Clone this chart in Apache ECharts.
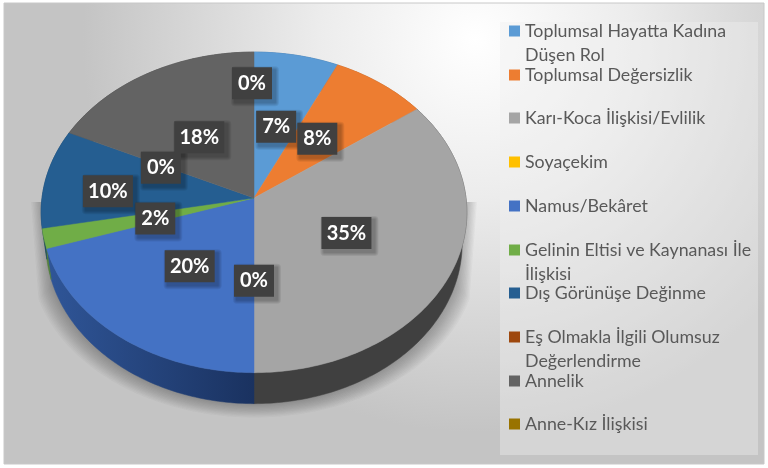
<!DOCTYPE html>
<html><head><meta charset="utf-8">
<style>html,body{margin:0;padding:0;background:#fff}#c{width:768px;height:468px}</style>
<script src="https://cdn.jsdelivr.net/npm/echarts@6/dist/echarts.min.js"></script>
</head><body><div id="c"></div>
<script>
const categories = ['Toplumsal Hayatta Kadına Düşen Rol','Toplumsal Değersizlik','Karı-Koca İlişkisi/Evlilik','Soyaçekim','Namus/Bekâret','Gelinin Eltisi ve Kaynanası İle İlişkisi','Dış Görünüşe Değinme','Eş Olmakla İlgili Olumsuz Değerlendirme','Annelik','Anne-Kız İlişkisi'];
const values = [7, 8, 35, 0, 20, 2, 10, 0, 18, 0];
const colors = ['#5b9bd5','#ed7d31','#a5a5a5','#ffc000','#4472c4','#70ad47','#255e91','#9e480e','#636363','#997300'];
const sideColors = ['#3a6d9c','#ad5a23','#404040','#bc8c00','#2b4f93','#52803a','#1b4569','#743609','#484848','#715400'];
const legendLines = [['Toplumsal Hayatta Kadına','Düşen Rol'],['Toplumsal Değersizlik'],['Karı-Koca İlişkisi/Evlilik'],['Soyaçekim'],['Namus/Bekâret'],['Gelinin Eltisi ve Kaynanası İle','İlişkisi'],['Dış Görünüşe Değinme'],['Eş Olmakla İlgili Olumsuz','Değerlendirme'],['Annelik'],['Anne-Kız İlişkisi']];
const labelReach = [.5,.5,.49,.48,.49,.49,.7,.5,.5,.8];
const labelNudge = [[0,3],[-2,0],[-2,-1],[0,3],[-1,3],[3,1],[0,7],[1,3],[0,4],[-2,4]];

const GEO = {cx:254, cy:198, A:212, B:159, c:.0895, depth:31, shrink:.978};
const total = values.reduce((a,b)=>a+b,0);
function project(deg, reach){
  const t = deg*Math.PI/180, u = reach*Math.sin(t), v = reach*Math.cos(t), d = 1+GEO.c*v;
  return [GEO.cx+GEO.A*u/d, GEO.cy-GEO.B*v/d];
}
function lower(p){ return [GEO.cx+(p[0]-GEO.cx)*GEO.shrink, p[1]+GEO.depth]; }
function arc(a,b){ const pts=[]; const n=Math.max(1,Math.ceil(Math.abs(b-a))); for(let i=0;i<=n;i++) pts.push(project(a+(b-a)*i/n,1)); return pts; }

function renderSlice(params, api){
  const i = params.seriesIndex, val = api.value(0);
  let before = 0; for(let k=0;k<i;k++) before += values[k];
  const a0 = before/total*360, a1 = (before+val)/total*360, mid = (a0+a1)/2;
  const children = [];
  if(val>0){
    const edge = arc(a0,a1);
    const sideFill = i===4
      ? new echarts.graphic.LinearGradient(50,0,254,0,[{offset:0,color:'#2f5597'},{offset:1,color:'#1a3260'}],true)
      : sideColors[i];
    children.push({type:'polygon',z2:2,shape:{points:edge.concat(edge.map(lower).reverse())},style:{fill:sideFill,stroke:sideFill,lineWidth:.5}});
    children.push({type:'polygon',z2:5,shape:{points:[[GEO.cx,GEO.cy]].concat(edge)},style:{fill:colors[i],stroke:colors[i],lineWidth:.5}});
  }
  const p = project(mid,labelReach[i]), n = labelNudge[i], txt = val+'%', w = txt.length>2?50:40, h = 32;
  const x = p[0]+n[0], y = p[1]+n[1];
  [4,3,2,1].forEach(s=>children.push({type:'rect',z2:9,shape:{x:x-w/2-s+3,y:y-h/2-s+3,width:w+2*s,height:h+2*s,r:s},style:{fill:'rgba(0,0,0,.07)'}}));
  children.push({type:'rect',z2:10,shape:{x:x-w/2,y:y-h/2,width:w,height:h},style:{fill:'#404040'}});
  children.push({type:'text',z2:11,style:{x,y,text:txt,fill:'#fff',font:'bold 20px Lato',align:'center',verticalAlign:'middle'}});
  return {type:'group',children};
}

const legendCenters = [31,75,118,162,206,250,293,337,381,424];
const legends = categories.map((name,i)=>{
  const two = legendLines[i].length>1;
  return {
    data:[name], orient:'vertical', left:509, top: legendCenters[i]-(two?36:12), padding:0,
    itemWidth:11, itemHeight:11, icon:'rect', selectedMode:false,
    formatter:()=> two ? '\n'+legendLines[i].join('\n') : legendLines[i][0],
    textStyle:{color:'#595959',fontFamily:'Lato',fontSize:17.8,lineHeight:24}
  };
});

const series = categories.map((name,i)=>({
  type:'custom', name, coordinateSystem:'none', renderItem:renderSlice,
  data:[[values[i]]], itemStyle:{color:colors[i]}, silent:true, animation:false, z:3
}));

// soft cast shadow under the pie, built from stacked translucent outlines
function shadowRender(){
  const children = [];
  for(let k=12;k>=1;k--){
    const sx = 1+k*.006, dy = k*1.15, pts = [[GEO.cx-(GEO.A-4)*sx,202]];
    arc(250,110).forEach(p=>{ const q = lower(p); pts.push([GEO.cx+(q[0]-GEO.cx)*sx, q[1]+dy]); });
    pts.push([GEO.cx+(GEO.A-4)*sx,202]);
    children.push({type:'polygon',z2:1,shape:{points:pts},style:{fill:'rgba(70,70,70,.035)'}});
  }
  return {type:'group',children};
}
series.push({type:'custom',name:'__shadow',coordinateSystem:'none',renderItem:shadowRender,data:[[0]],silent:true,animation:false,z:2});

const chart = echarts.init(document.getElementById('c'),null,{renderer:'canvas'});
chart.setOption({
  animation:false,
  backgroundColor:'#fff',
  legend:legends,
  graphic:[
    {type:'rect',z:0,shape:{x:4,y:3,width:760,height:461},style:{fill:new echarts.graphic.RadialGradient(.62,.08,.85,[{offset:0,color:'#ffffff'},{offset:.4,color:'#ececec'},{offset:1,color:'#c4c4c4'}]),stroke:'#c8c8c8',lineWidth:1}},
    {type:'rect',z:0,shape:{x:500,y:22,width:258,height:433},style:{fill:'rgba(240,240,240,.4)'}}
  ],
  series
});
</script></body></html>
